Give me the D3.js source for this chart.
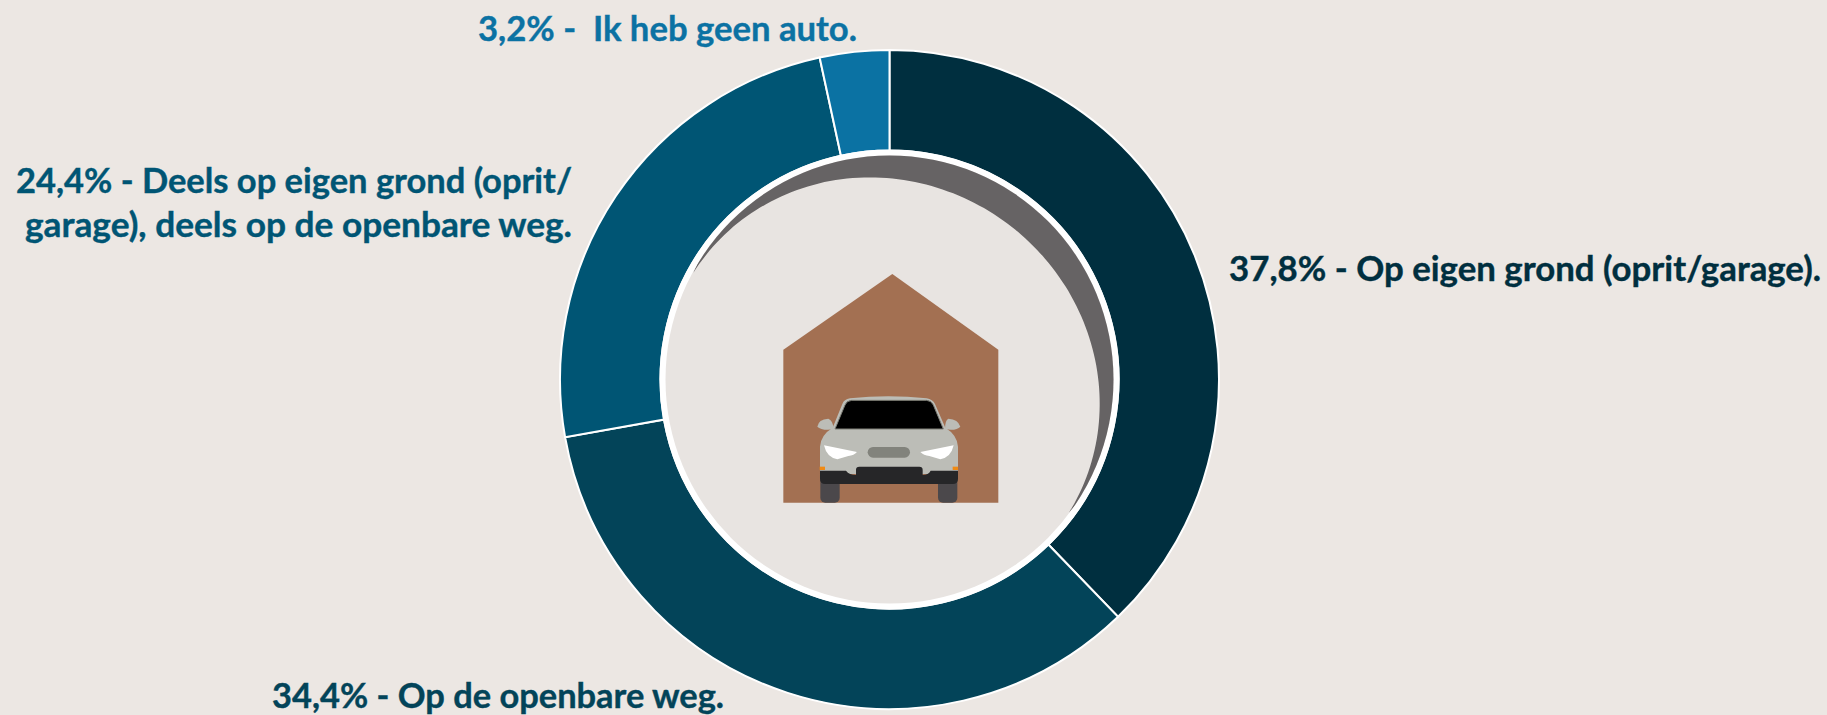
<!DOCTYPE html>
<html><head><meta charset="utf-8">
<script src="https://cdnjs.cloudflare.com/ajax/libs/d3/7.8.5/d3.min.js"></script>
<style>html,body{margin:0;padding:0;background:#ece7e3;overflow:hidden}svg{display:block}
text{font-family:Lato,"Open Sans",sans-serif;font-weight:700}</style></head>
<body><svg id="c" width="1827" height="715"></svg>
<script>
const categories = ["Op eigen grond (oprit/garage).","Op de openbare weg.","Deels op eigen grond (oprit/garage), deels op de openbare weg.","Ik heb geen auto."];
const values = [37.8,34.4,24.4,3.2];
const colors = ["#002f3f","#034459","#005574","#0b72a3"];
const labelLines = [["37,8% - Op eigen grond (oprit/garage)."],["34,4% - Op de openbare weg."],["24,4% - Deels op eigen grond (oprit/","garage), deels op de openbare weg."],["3,2% -  Ik heb geen auto."]];
const labelPos = [[[1229,281,592]],[[272,708,452]],[[16,193,556],[25,237,547]],[[478,41,379]]];
const crescentEdge = [[693,273],[713,247],[740,222],[770,202],[800,188],[830,181],[860,178],[880,178],[913,181],[947,190],[980,207],[1013,230],[1040,253],[1060,277],[1073,298],[1087,327],[1095,360],[1099,397],[1097,430],[1090,467],[1078,497],[1069,513]];

const W=1827,H=715,cx=889.5,cy=379.5,R=329.5,r=229,rHole=224;
const svg=d3.select("#c");
svg.append("rect").attr("width",W).attr("height",H).attr("fill","#ece7e3");
const defs=svg.append("defs");
defs.append("clipPath").attr("id","hole").append("circle").attr("cx",cx).attr("cy",cy).attr("r",rHole);

// The printed percentages add up to 99.8; angles follow a 100% scale and the last slice closes the ring.
const tau=2*Math.PI;
const pie=d3.pie().sort(null).value(d=>d).endAngle(tau*d3.sum(values)/100);
const slices=pie(values);
slices[slices.length-1].endAngle=tau;
const arc=d3.arc().innerRadius(r).outerRadius(R);
const g=svg.append("g").attr("transform",`translate(${cx},${cy})`);
g.selectAll("path").data(slices).join("path").attr("d",arc).attr("fill",(d,i)=>colors[i]).attr("stroke","#fff").attr("stroke-width",2);
svg.append("circle").attr("cx",cx).attr("cy",cy).attr("r",r+1).attr("fill","#fff");
svg.append("circle").attr("cx",cx).attr("cy",cy).attr("r",rHole).attr("fill","#e8e4e1");

// Smooth the traced inner edge of the shadow crescent: polar least-squares fit around a nearby centre.
const pc=[871,406];
const basis=t=>[1,Math.cos(t),Math.sin(t),Math.cos(2*t),Math.sin(2*t)];
const polar=crescentEdge.map(p=>({t:Math.atan2(p[1]-pc[1],p[0]-pc[0]),r:Math.hypot(p[0]-pc[0],p[1]-pc[1])}));
const n=5,A=d3.range(n).map(()=>new Array(n+1).fill(0));
polar.forEach(p=>{const b=basis(p.t);for(let i=0;i<n;i++){for(let j=0;j<n;j++)A[i][j]+=b[i]*b[j];A[i][n]+=b[i]*p.r;}});
for(let i=0;i<n;i++){let m=i;for(let k=i+1;k<n;k++)if(Math.abs(A[k][i])>Math.abs(A[m][i]))m=k;[A[i],A[m]]=[A[m],A[i]];
  for(let k=0;k<n;k++)if(k!==i){const f=A[k][i]/A[i][i];for(let j=i;j<=n;j++)A[k][j]-=f*A[i][j];}}
const coef=A.map((row,i)=>row[n]/row[i]);
const t0=polar[0].t,t1=polar[polar.length-1].t;
const smooth=d3.range(0,61).map(i=>{const t=t0+(t1-t0)*i/60,b=basis(t),rr=d3.sum(b,(v,k)=>v*coef[k]);return [pc[0]+rr*Math.cos(t),pc[1]+rr*Math.sin(t)];});
const edge=d3.line().curve(d3.curveCatmullRom)(smooth);
const first=smooth[0];
svg.append("g").attr("clip-path","url(#hole)").append("path").attr("fill","#666364")
 .attr("d",`${edge}A${rHole+2},${rHole+2} 0 1,0 ${first[0]},${first[1]}Z`);

// garage and car icon (drawn in 3x local units)
const ic=svg.append("g").attr("transform","translate(760,250) scale(0.33333)");
ic.append("path").attr("fill","#a37052").attr("d","M397,72L715,299V758H70V299Z");
const car=ic.append("g");
car.append("rect").attr("x",181).attr("y",670).attr("width",58).attr("height",88).attr("rx",15).attr("fill","#4b484b");
car.append("rect").attr("x",534).attr("y",670).attr("width",58).attr("height",88).attr("rx",15).attr("fill","#4b484b");
car.append("path").attr("fill","#bcbdb7").attr("d","M222,538Q185,543 172,530Q175,508 205,506Q218,510 222,538Z");
car.append("path").attr("fill","#bcbdb7").attr("d","M555,538Q590,543 601,530Q595,508 565,506Q555,510 555,538Z");
car.append("path").attr("fill","#bcbdb7").attr("d","M180,672V590Q182,555 218,533L247,462Q252,448 270,445Q385,432 500,445Q518,448 525,462L556,533Q592,555 594,590V672Z");
car.append("path").attr("fill","#000").attr("stroke","#7d7d75").attr("stroke-width",3).attr("d","M225,537L255,465Q260,452 275,451H500Q514,452 520,465L550,537Z");
car.append("path").attr("fill","#fff").attr("d","M192,586L291,606Q282,616 265,618L232,628Q200,622 192,586Z");
car.append("path").attr("fill","#fff").attr("d","M581,586L481,606Q491,616 508,618L541,628Q573,622 581,586Z");
car.append("rect").attr("x",323).attr("y",591).attr("width",127).attr("height",32).attr("rx",16).attr("fill","#82837c");
car.append("path").attr("fill","#262628").attr("d","M180,662H258Q268,675 288,675V660Q288,650 298,650H478Q488,650 488,660V675Q505,675 512,662H594V686Q594,702 578,702H196Q180,702 180,686Z");
car.append("rect").attr("x",179).attr("y",650).attr("width",16).attr("height",10).attr("fill","#f08a14");
car.append("rect").attr("x",578).attr("y",650).attr("width",16).attr("height",10).attr("fill","#f08a14");

// labels
labelLines.forEach((lines,i)=>lines.forEach((t,j)=>{
  const p=labelPos[i][j];
  svg.append("text").attr("x",p[0]).attr("y",p[1]).attr("fill",colors[i]).attr("font-size",35)
   .attr("stroke",colors[i]).attr("stroke-width",0.4)
   .attr("textLength",p[2]).attr("lengthAdjust","spacingAndGlyphs").attr("xml:space","preserve").style("white-space","pre").text(t);
}));
</script></body></html>
